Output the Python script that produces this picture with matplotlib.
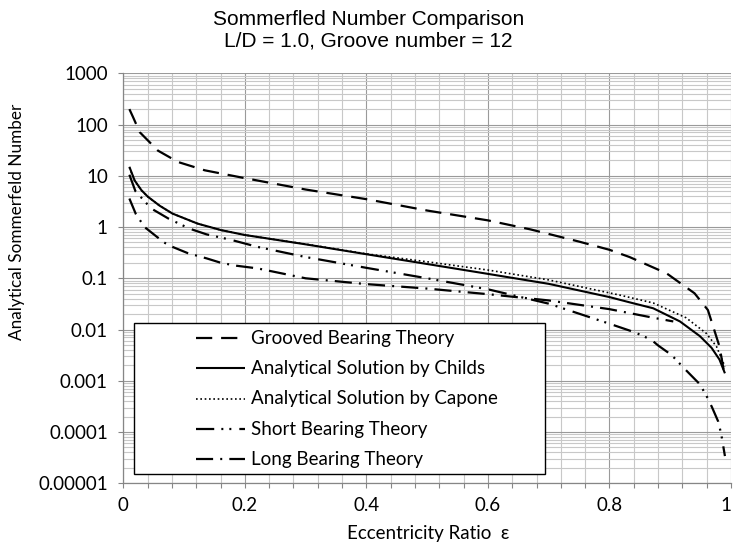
"""
Sommerfeld number comparison, L/D = 1.0, 12 grooves
log-scale curves against eccentricity ratio
"""

import matplotlib
matplotlib.use('Agg')
import matplotlib.pyplot as plt
from matplotlib.patches import Rectangle
from matplotlib.ticker import FixedLocator, FixedFormatter, MultipleLocator, NullFormatter

# values
grooved_x = [0.01, 0.016, 0.027, 0.057, 0.09, 0.134, 0.2, 0.3, 0.4, 0.5, 0.6,
             0.67, 0.75, 0.8, 0.833, 0.894, 0.94, 0.962, 0.981, 0.99]
grooved_y = [200, 140, 71, 31, 18.6, 12.8, 9.0, 5.4, 3.5, 2.1, 1.35,
             0.9, 0.52, 0.36, 0.26, 0.125, 0.051, 0.024, 0.0047, 0.0012]

childs_x = [0.01, 0.0187, 0.03, 0.0405, 0.06, 0.081, 0.122, 0.161, 0.2, 0.3, 0.4,
            0.5, 0.6, 0.7, 0.8, 0.833, 0.872, 0.916, 0.949, 0.968, 0.981, 0.99]
childs_y = [15.0, 8.1, 5.2, 3.9, 2.6, 1.83, 1.17, 0.87, 0.7, 0.46, 0.295,
            0.19, 0.122, 0.078, 0.043, 0.034, 0.026, 0.0144, 0.0074, 0.0044, 0.0026, 0.0014]

capone_x = [0.01, 0.0187, 0.03, 0.0405, 0.06, 0.081, 0.122, 0.161, 0.2, 0.3, 0.4,
            0.5, 0.6, 0.7, 0.817, 0.872, 0.926, 0.959, 0.976, 0.99]
capone_y = [14.5, 8.0, 5.2, 3.9, 2.6, 1.83, 1.17, 0.87, 0.7, 0.465, 0.30,
            0.21, 0.145, 0.093, 0.047, 0.033, 0.017, 0.0085, 0.0047, 0.0019]

short_x = [0.01, 0.02, 0.046, 0.074, 0.109, 0.137, 0.178, 0.221, 0.3, 0.4, 0.5,
           0.6, 0.7, 0.8, 0.842, 0.869, 0.88, 0.902, 0.924, 0.949, 0.962, 0.969,
           0.979, 0.984, 0.99]
short_y = [10.5, 5.0, 2.3, 1.47, 0.93, 0.72, 0.56, 0.41, 0.26, 0.16, 0.1,
           0.061, 0.032, 0.013, 0.0088, 0.0063, 0.0049, 0.0032, 0.0017, 0.00085,
           0.00045, 0.0003, 0.00016, 0.00009, 0.000034]

long_x = [0.01, 0.0206, 0.035, 0.067, 0.081, 0.106, 0.137, 0.161, 0.186, 0.221,
          0.3, 0.4, 0.5, 0.6, 0.7, 0.8, 0.872, 0.905]
long_y = [3.6, 1.8, 1.0, 0.5, 0.41, 0.31, 0.245, 0.2, 0.176, 0.156,
          0.1, 0.077, 0.063, 0.049, 0.037, 0.025, 0.017, 0.0144]

series_labels = ['Grooved Bearing Theory', 'Analytical Solution by Childs',
                 'Analytical Solution by Capone', 'Short Bearing Theory',
                 'Long Bearing Theory']

y_ticks = [1e-5, 1e-4, 1e-3, 1e-2, 1e-1, 1, 10, 100, 1000]
y_tick_labels = ['0.00001', '0.0001', '0.001', '0.01', '0.1', '1', '10', '100', '1000']
x_ticks = [0, 0.2, 0.4, 0.6, 0.8, 1.0]
x_tick_labels = ['0', '0.2', '0.4', '0.6', '0.8', '1']

# line styles (dash lengths in units of line width)
styles = [
    dict(lw=1.6, ls=(0, (7.3, 4.0))),
    dict(lw=1.5, ls='-'),
    dict(lw=1.2, ls=(0, (1.0, 1.6))),
    dict(lw=1.6, ls=(0, (8.2, 3.2, 0.9, 2.7, 0.9, 3.6))),
    dict(lw=1.6, ls=(0, (7.7, 3.2, 0.9, 3.2))),
]

body_font = 'Lato'
fs = 13.5
axis_grey = '#868686'

fig = plt.figure(figsize=(7.33, 5.45), dpi=100)
ax = fig.add_axes([123.3 / 733, 1 - 483.3 / 545, (731 - 123.3) / 733, 410 / 545])

data = [(grooved_x, grooved_y), (childs_x, childs_y), (capone_x, capone_y),
        (short_x, short_y), (long_x, long_y)]
for (xs, ys), st in zip(data, styles):
    ax.plot(xs, ys, color='black', linewidth=st['lw'], linestyle=st['ls'],
            solid_capstyle='butt', dash_capstyle='butt', zorder=3)

ax.set_yscale('log')
ax.set_xlim(0, 1)
ax.set_ylim(1e-5, 1e3)

ax.yaxis.set_major_locator(FixedLocator(y_ticks))
ax.yaxis.set_major_formatter(FixedFormatter(y_tick_labels))
ax.yaxis.set_minor_formatter(NullFormatter())
ax.xaxis.set_major_locator(FixedLocator(x_ticks))
ax.xaxis.set_major_formatter(FixedFormatter(x_tick_labels))
ax.xaxis.set_minor_locator(MultipleLocator(0.04))

ax.grid(True, which='major', color='#9a9a9a', linewidth=0.8)
ax.grid(True, which='minor', color='#c8c8c8', linewidth=0.8)
ax.set_axisbelow(True)

for side in ['top', 'right']:
    ax.spines[side].set_visible(False)
for side in ['left', 'bottom']:
    ax.spines[side].set_color(axis_grey)
    ax.spines[side].set_linewidth(0.9)

ax.tick_params(axis='both', which='major', direction='out', length=3.6,
               width=0.8, color=axis_grey, labelsize=fs, labelcolor='black')
ax.tick_params(axis='y', which='major', pad=7.5)
ax.tick_params(axis='x', which='major', pad=6.5)
ax.tick_params(axis='x', which='minor', direction='out', length=3.6,
               width=0.8, color=axis_grey)
ax.tick_params(axis='y', which='minor', length=0)
for lab in ax.get_xticklabels() + ax.get_yticklabels():
    lab.set_fontfamily(body_font)
# the last x label sits on the figure edge: keep it inside
ax.get_xticklabels()[-1].set_horizontalalignment('right')

# legend drawn by hand so the box matches the reference
ax.add_patch(Rectangle((0.018, 0.022), 0.676, 0.370, transform=ax.transAxes,
                       facecolor='white', edgecolor='black', linewidth=1.0,
                       zorder=4))
row_y = [0.354, 0.281, 0.206, 0.132, 0.059]
for yy, st, lab in zip(row_y, styles, series_labels):
    ax.plot([0.119, 0.201], [yy, yy], transform=ax.transAxes, color='black',
            linewidth=st['lw'], linestyle=st['ls'], solid_capstyle='butt',
            dash_capstyle='butt', zorder=5)
    ax.text(0.210, yy, lab, transform=ax.transAxes, va='center', ha='left',
            fontsize=fs, family=body_font, color='black', zorder=5)

fig.text(0.503, 1 - 30 / 545,
         'Sommerfled Number Comparison\nL/D = 1.0, Groove number = 12',
         ha='center', va='center', fontsize=15, family='Liberation Sans',
         linespacing=1.15)
fig.text(17 / 733, 1 - 221.5 / 545, 'Analytical Sommerfeld Number',
         rotation=90, ha='center', va='center', fontsize=12.3, family=body_font)
fig.text(428 / 733, 1 - 533 / 545, 'Eccentricity Ratio  \u03b5',
         ha='center', va='center', fontsize=fs, family=body_font)

fig.savefig('out.png', dpi=100)
